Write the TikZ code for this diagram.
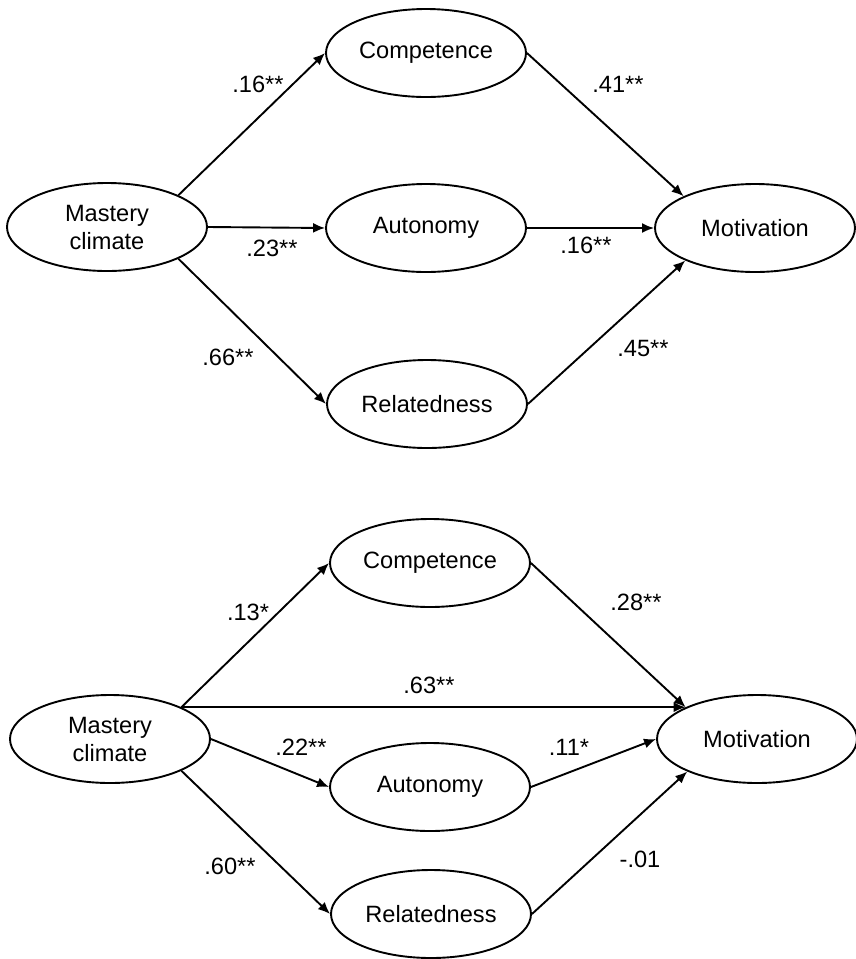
\documentclass[tikz,border=0pt]{standalone}
\usepackage{fontspec}
\setmainfont{Liberation Sans}
\usetikzlibrary{shapes.geometric,arrows.meta}
\begin{document}
\begin{tikzpicture}[x=1pt,y=-1pt,
  var/.style={draw,ellipse,line width=1.9pt,minimum width=200pt,minimum height=88pt,inner sep=0pt,
    font=\fontsize{23.6}{28}\selectfont,align=center},
  path/.style={line width=1.9pt,-{Latex[length=12pt,width=10pt]}},
  coef/.style={font=\fontsize{23.6}{28}\selectfont,inner sep=0pt}]
\useasboundingbox (0,0) rectangle (856,959);
% ---------- top model ----------
\node[var] (mc1)   at (107,227) {Mastery\\climate};
\node[var] (comp1) at (426,53)  {Competence};
\node[var] (aut1)  at (426,228) {Autonomy};
\node[var] (rel1)  at (427,404) {Relatedness};
\node[var] (mot1)  at (755,228) {Motivation};
\draw[path] (mc1.24)  -- (comp1.west);
\draw[path] (mc1.east) -- (aut1.west);
\draw[path] (mc1.336) -- (rel1.west);
\draw[path] (comp1.east) -- (mot1.156);
\draw[path] (aut1.east) -- (mot1.west);
\draw[path] (rel1.east) -- (mot1.205);
\node[coef] at (258,84)  {.16**};
\node[coef] at (272,248) {.23**};
\node[coef] at (228,357) {.66**};
\node[coef] at (618,84)  {.41**};
\node[coef] at (586,245) {.16**};
\node[coef] at (643,348) {.45**};
% ---------- bottom model ----------
\node[var] (mc2)   at (110,739) {Mastery\\climate};
\node[var] (comp2) at (430,563) {Competence};
\node[var] (aut2)  at (430,787) {Autonomy};
\node[var] (rel2)  at (431,914) {Relatedness};
\node[var] (mot2)  at (757,739) {Motivation};
\draw[path] (mc2.24) -- (comp2.west);
\draw[path] (mc2.24) -- (mot2.156);
\draw[path] (mc2.east) -- (aut2.west);
\draw[path] (mc2.336) -- (rel2.west);
\draw[path] (comp2.east) -- (mot2.156);
\draw[path] (aut2.east) -- (mot2.west);
\draw[path] (rel2.east) -- (mot2.205);
\node[coef] at (248,612) {.13*};
\node[coef] at (429,685) {.63**};
\node[coef] at (301,747) {.22**};
\node[coef] at (230,866) {.60**};
\node[coef] at (636,602) {.28**};
\node[coef] at (569,747) {.11*};
\node[coef] at (640,859) {-.01};
\end{tikzpicture}
\end{document}
